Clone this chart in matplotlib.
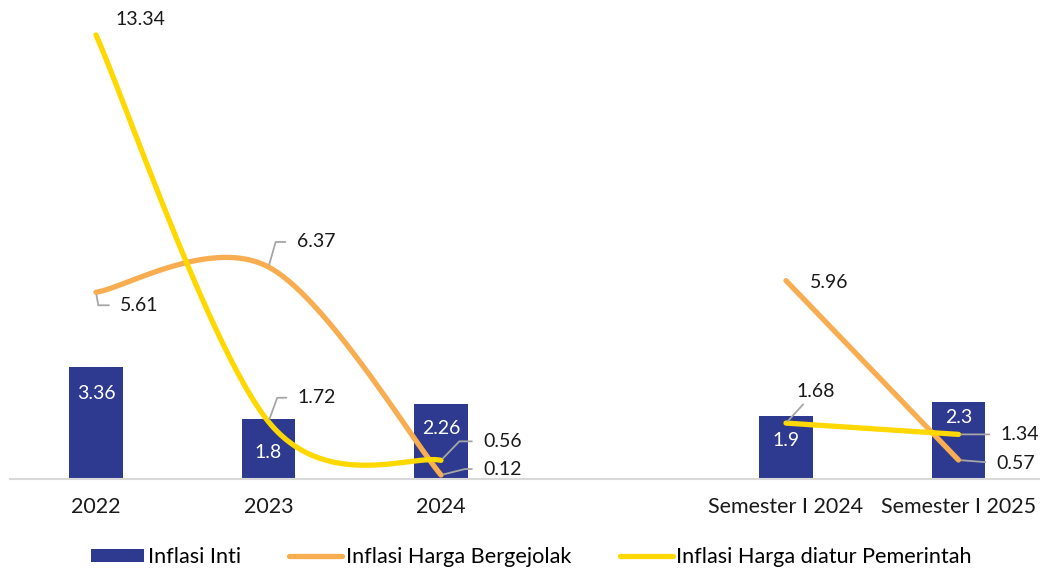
import numpy as np
import matplotlib
matplotlib.use("Agg")
import matplotlib.pyplot as plt
from matplotlib.patches import Patch
from matplotlib.lines import Line2D

plt.rcParams["font.family"] = ["Lato", "DejaVu Sans"]

categories = ["2022", "2023", "2024", "", "Semester I 2024", "Semester I 2025"]
inflasi_inti = [3.36, 1.8, 2.26, np.nan, 1.9, 2.3]
harga_bergejolak = [5.61, 6.37, 0.12, np.nan, 5.96, 0.57]
harga_diatur = [13.34, 1.72, 0.56, np.nan, 1.68, 1.34]

BLUE = "#2E3990"
ORANGE = "#F7AD50"
YELLOW = "#FFD800"
LEADER = "#A6A6A6"

# label placement (offset pixels from the point, leader angle or None)
bar_label_dy = [-26, -33, -25, None, -25, -15]
orange_lbl = [((24, -13), -80), ((28, 25), 74), ((42, 6), 14), None, ((24, -2), None), ((38, -3), "s")]
yellow_lbl = [((19, 15), None), ((29, 24), 70), ((42, 19), 46), None, ((10, 32), "u"), ((42, 0), "s")]


def smooth(xs, ys, n=60):
    # Bezier smoothing similar to spreadsheet "smoothed line"
    pts = np.column_stack([xs, ys])
    out = [pts[0]]
    for i in range(len(pts) - 1):
        p0 = pts[max(i - 1, 0)]
        p1, p2 = pts[i], pts[i + 1]
        p3 = pts[min(i + 2, len(pts) - 1)]
        c1 = p1 + (p2 - p0) / 6
        c2 = p2 - (p3 - p1) / 6
        t = np.linspace(0, 1, n)[1:, None]
        seg = (1 - t) ** 3 * p1 + 3 * (1 - t) ** 2 * t * c1 + 3 * (1 - t) * t ** 2 * c2 + t ** 3 * p2
        out.extend(seg)
    out = np.array(out)
    return out[:, 0], out[:, 1]


def segments(vals):
    x = np.arange(len(vals))
    v = np.array(vals, dtype=float)
    groups, cur = [], []
    for xi, vi in zip(x, v):
        if np.isnan(vi):
            if cur:
                groups.append(cur)
            cur = []
        else:
            cur.append((xi, vi))
    if cur:
        groups.append(cur)
    return groups


fig = plt.figure(figsize=(10.4, 5.7), dpi=100)
ax = fig.add_axes([9.75 / 1040, 91 / 570, 1035 / 1040, 466 / 570])

x = np.arange(len(categories))
ax.bar(x, inflasi_inti, width=0.31, color=BLUE, zorder=2)

for vals, col, z in [(harga_bergejolak, ORANGE, 3), (harga_diatur, YELLOW, 4)]:
    for g in segments(vals):
        gx, gy = zip(*g)
        sx, sy = smooth(np.array(gx, float), np.array(gy, float))
        ax.plot(sx, sy, color=col, lw=3.8, solid_capstyle="round", zorder=z)

# bar labels
for xi, v, dy in zip(x, inflasi_inti, bar_label_dy):
    if np.isnan(v):
        continue
    ax.annotate(f"{v:g}", (xi, v), xytext=(0, dy), textcoords="offset pixels",
                ha="center", va="center", color="white", fontsize=14, zorder=5)

# line labels
for vals, specs in [(harga_bergejolak, orange_lbl), (harga_diatur, yellow_lbl)]:
    for xi, v, spec in zip(x, vals, specs):
        if spec is None:
            continue
        off, lead = spec
        kw = dict(xytext=off, textcoords="offset pixels", fontsize=14,
                  color="#1a1a1a", va="center", ha="left", zorder=6)
        if lead is None:
            pass
        elif lead == "u":
            kw["arrowprops"] = dict(arrowstyle="-", color=LEADER, lw=1.3,
                                    relpos=(0.3, 0.0), shrinkA=2, shrinkB=2)
        elif lead == "s":
            kw["arrowprops"] = dict(arrowstyle="-", color=LEADER, lw=1.3,
                                    relpos=(0.0, 0.5), shrinkA=6, shrinkB=2)
        else:
            kw["arrowprops"] = dict(arrowstyle="-", color=LEADER, lw=1.3,
                                    relpos=(0.0, 0.5), shrinkA=6, shrinkB=2,
                                    connectionstyle=f"angle,angleA=0,angleB={lead},rad=0")
        ax.annotate(f"{v:g}", (xi, v), **kw)

ax.set_xlim(-0.5, len(categories) - 0.5)
ax.set_ylim(0, 14)
ax.set_xticks(x)
ax.set_xticklabels(categories, fontsize=15.5, color="#1a1a1a")
ax.tick_params(axis="x", length=0, pad=13)
ax.set_yticks([])
for s in ["top", "right", "left"]:
    ax.spines[s].set_visible(False)
ax.spines["bottom"].set_color("#D9D9D9")
ax.spines["bottom"].set_linewidth(1.5)

handles = [
    Patch(facecolor=BLUE, label="Inflasi Inti"),
    Line2D([0], [0], color=ORANGE, lw=3.8, solid_capstyle="round", label="Inflasi Harga Bergejolak"),
    Line2D([0], [0], color=YELLOW, lw=3.8, solid_capstyle="round", label="Inflasi Harga diatur Pemerintah"),
]
fig.legend(handles=handles, loc="center", bbox_to_anchor=(0.511, 13 / 570), ncol=3,
           frameon=False, fontsize=15.6, handlelength=2.45, handleheight=0.55,
           handletextpad=0.15, columnspacing=2.25)

fig.savefig("out.png", dpi=100)
